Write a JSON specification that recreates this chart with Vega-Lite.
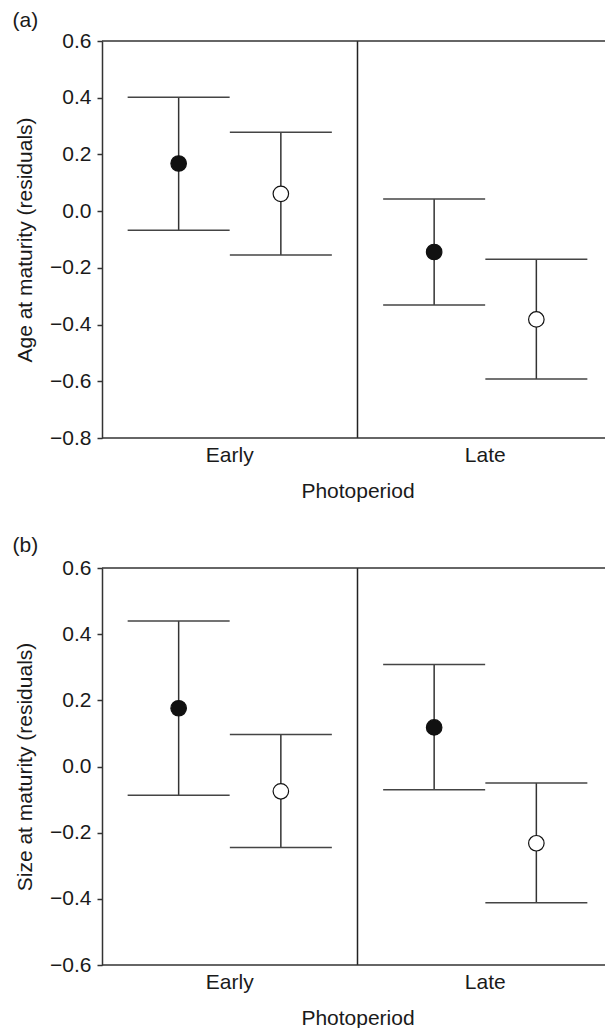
{
  "$schema": "https://vega.github.io/schema/vega-lite/v6.json",
  "background": "white",
  "padding": {"left": 12, "top": 10, "right": 0, "bottom": 0},
  "data": {"values": [
    {"panel": "a", "Photoperiod": "Early", "Group": "filled", "mean": 0.168, "lower": -0.067, "upper": 0.402},
    {"panel": "a", "Photoperiod": "Early", "Group": "open", "mean": 0.061, "lower": -0.155, "upper": 0.278},
    {"panel": "a", "Photoperiod": "Late", "Group": "filled", "mean": -0.144, "lower": -0.331, "upper": 0.043},
    {"panel": "a", "Photoperiod": "Late", "Group": "open", "mean": -0.382, "lower": -0.592, "upper": -0.170},
    {"panel": "b", "Photoperiod": "Early", "Group": "filled", "mean": 0.176, "lower": -0.087, "upper": 0.440},
    {"panel": "b", "Photoperiod": "Early", "Group": "open", "mean": -0.075, "lower": -0.245, "upper": 0.097},
    {"panel": "b", "Photoperiod": "Late", "Group": "filled", "mean": 0.118, "lower": -0.070, "upper": 0.308},
    {"panel": "b", "Photoperiod": "Late", "Group": "open", "mean": -0.232, "lower": -0.412, "upper": -0.050}
  ]},
  "spacing": 130,
  "bounds": "flush",
  "vconcat": [
    {
      "title": {"text": "(a)", "anchor": "start", "frame": "bounds", "fontSize": 21, "fontWeight": "normal", "baseline": "alphabetic", "offset": -18, "dx": -2, "color": "#1a1a1a", "font": "Liberation Sans"},
      "width": 503,
      "height": 397,
      "transform": [{"filter": "datum.panel === 'a'"}],
      "layer": [
        {
          "mark": {"type": "rule", "color": "#333", "strokeWidth": 1.5},
          "encoding": {
            "x": {"field": "Photoperiod", "type": "nominal", "scale": {"domain": ["Early", "Late"], "range": [0, 511], "paddingInner": 0, "paddingOuter": 0}, "axis": {"title": "Photoperiod", "labelAngle": 0, "ticks": false, "tickSize": 0, "domain": false, "labelPadding": 6.5, "titlePadding": 14.5}},
            "xOffset": {"field": "Group", "type": "nominal", "scale": {"domain": ["filled", "open"], "paddingInner": 0, "paddingOuter": 0.25}},
            "y": {"field": "lower", "type": "quantitative", "title": "Age at maturity (residuals)", "scale": {"domain": [-0.8, 0.6], "nice": false, "zero": false}, "axis": {"values": [-0.8, -0.6, -0.4, -0.2, 0, 0.2, 0.4, 0.6], "format": ".1f", "tickSize": 5, "labelPadding": 6, "titlePadding": 14}},
            "y2": {"field": "upper"}
          }
        },
        {
          "mark": {"type": "tick", "color": "#444", "size": 102, "thickness": 1.5, "opacity": 1},
          "encoding": {
            "x": {"field": "Photoperiod", "type": "nominal"},
            "xOffset": {"field": "Group", "type": "nominal"},
            "y": {"field": "upper", "type": "quantitative", "title": "Age at maturity (residuals)"}
          }
        },
        {
          "mark": {"type": "tick", "color": "#444", "size": 102, "thickness": 1.5, "opacity": 1},
          "encoding": {
            "x": {"field": "Photoperiod", "type": "nominal"},
            "xOffset": {"field": "Group", "type": "nominal"},
            "y": {"field": "lower", "type": "quantitative", "title": "Age at maturity (residuals)"}
          }
        },
        {
          "mark": {"type": "point", "shape": "circle", "filled": true, "stroke": "#111", "strokeWidth": 1.2, "size": 240, "opacity": 1},
          "encoding": {
            "x": {"field": "Photoperiod", "type": "nominal"},
            "xOffset": {"field": "Group", "type": "nominal"},
            "y": {"field": "mean", "type": "quantitative", "title": "Age at maturity (residuals)"},
            "fill": {"field": "Group", "type": "nominal", "scale": {"domain": ["filled", "open"], "range": ["#111111", "#ffffff"]}, "legend": null}
          }
        },
        {
          "transform": [{"filter": "datum.Photoperiod === 'Late' && datum.Group === 'filled'"}],
          "mark": {"type": "rule", "color": "#222", "strokeWidth": 1.5},
          "encoding": {
            "x": {"field": "Photoperiod", "type": "nominal", "bandPosition": 0}
          }
        },
        {
          "transform": [{"filter": "datum.Photoperiod === 'Early' && datum.Group === 'filled'"}],
          "mark": {"type": "rule", "color": "#333", "strokeWidth": 1.5},
          "encoding": {
            "y": {"datum": 0.6, "type": "quantitative"}
          }
        },
        {
          "transform": [{"filter": "datum.Photoperiod === 'Early' && datum.Group === 'filled'"}],
          "mark": {"type": "rule", "color": "#333", "strokeWidth": 1.5},
          "encoding": {
            "y": {"datum": -0.8, "type": "quantitative"}
          }
        }
      ]
    },
    {
      "title": {"text": "(b)", "anchor": "start", "frame": "bounds", "fontSize": 21, "fontWeight": "normal", "baseline": "alphabetic", "offset": -16, "dx": -2, "color": "#1a1a1a", "font": "Liberation Sans"},
      "width": 503,
      "height": 397,
      "transform": [{"filter": "datum.panel === 'b'"}],
      "layer": [
        {
          "mark": {"type": "rule", "color": "#333", "strokeWidth": 1.5},
          "encoding": {
            "x": {"field": "Photoperiod", "type": "nominal", "scale": {"domain": ["Early", "Late"], "range": [0, 511], "paddingInner": 0, "paddingOuter": 0}, "axis": {"title": "Photoperiod", "labelAngle": 0, "ticks": false, "tickSize": 0, "domain": false, "labelPadding": 6.5, "titlePadding": 14.5}},
            "xOffset": {"field": "Group", "type": "nominal", "scale": {"domain": ["filled", "open"], "paddingInner": 0, "paddingOuter": 0.25}},
            "y": {"field": "lower", "type": "quantitative", "title": "Size at maturity (residuals)", "scale": {"domain": [-0.6, 0.6], "nice": false, "zero": false}, "axis": {"values": [-0.6, -0.4, -0.2, 0, 0.2, 0.4, 0.6], "format": ".1f", "tickSize": 5, "labelPadding": 6, "titlePadding": 14}},
            "y2": {"field": "upper"}
          }
        },
        {
          "mark": {"type": "tick", "color": "#444", "size": 102, "thickness": 1.5, "opacity": 1},
          "encoding": {
            "x": {"field": "Photoperiod", "type": "nominal"},
            "xOffset": {"field": "Group", "type": "nominal"},
            "y": {"field": "upper", "type": "quantitative", "title": "Size at maturity (residuals)"}
          }
        },
        {
          "mark": {"type": "tick", "color": "#444", "size": 102, "thickness": 1.5, "opacity": 1},
          "encoding": {
            "x": {"field": "Photoperiod", "type": "nominal"},
            "xOffset": {"field": "Group", "type": "nominal"},
            "y": {"field": "lower", "type": "quantitative", "title": "Size at maturity (residuals)"}
          }
        },
        {
          "mark": {"type": "point", "shape": "circle", "filled": true, "stroke": "#111", "strokeWidth": 1.2, "size": 240, "opacity": 1},
          "encoding": {
            "x": {"field": "Photoperiod", "type": "nominal"},
            "xOffset": {"field": "Group", "type": "nominal"},
            "y": {"field": "mean", "type": "quantitative", "title": "Size at maturity (residuals)"},
            "fill": {"field": "Group", "type": "nominal", "scale": {"domain": ["filled", "open"], "range": ["#111111", "#ffffff"]}, "legend": null}
          }
        },
        {
          "transform": [{"filter": "datum.Photoperiod === 'Late' && datum.Group === 'filled'"}],
          "mark": {"type": "rule", "color": "#222", "strokeWidth": 1.5},
          "encoding": {
            "x": {"field": "Photoperiod", "type": "nominal", "bandPosition": 0}
          }
        },
        {
          "transform": [{"filter": "datum.Photoperiod === 'Early' && datum.Group === 'filled'"}],
          "mark": {"type": "rule", "color": "#333", "strokeWidth": 1.5},
          "encoding": {
            "y": {"datum": 0.6, "type": "quantitative"}
          }
        },
        {
          "transform": [{"filter": "datum.Photoperiod === 'Early' && datum.Group === 'filled'"}],
          "mark": {"type": "rule", "color": "#333", "strokeWidth": 1.5},
          "encoding": {
            "y": {"datum": -0.6, "type": "quantitative"}
          }
        }
      ]
    }
  ],
  "config": {
    "font": "Liberation Sans",
    "view": {"stroke": null},
    "axis": {
      "labelFont": "Liberation Sans",
      "titleFont": "Liberation Sans",
      "labelFontSize": 21,
      "titleFontSize": 21,
      "titleFontWeight": "normal",
      "labelColor": "#1a1a1a",
      "titleColor": "#1a1a1a",
      "domainColor": "#333",
      "tickColor": "#333",
      "domainWidth": 1.5,
      "tickWidth": 1.5,
      "grid": false
    }
  }
}
